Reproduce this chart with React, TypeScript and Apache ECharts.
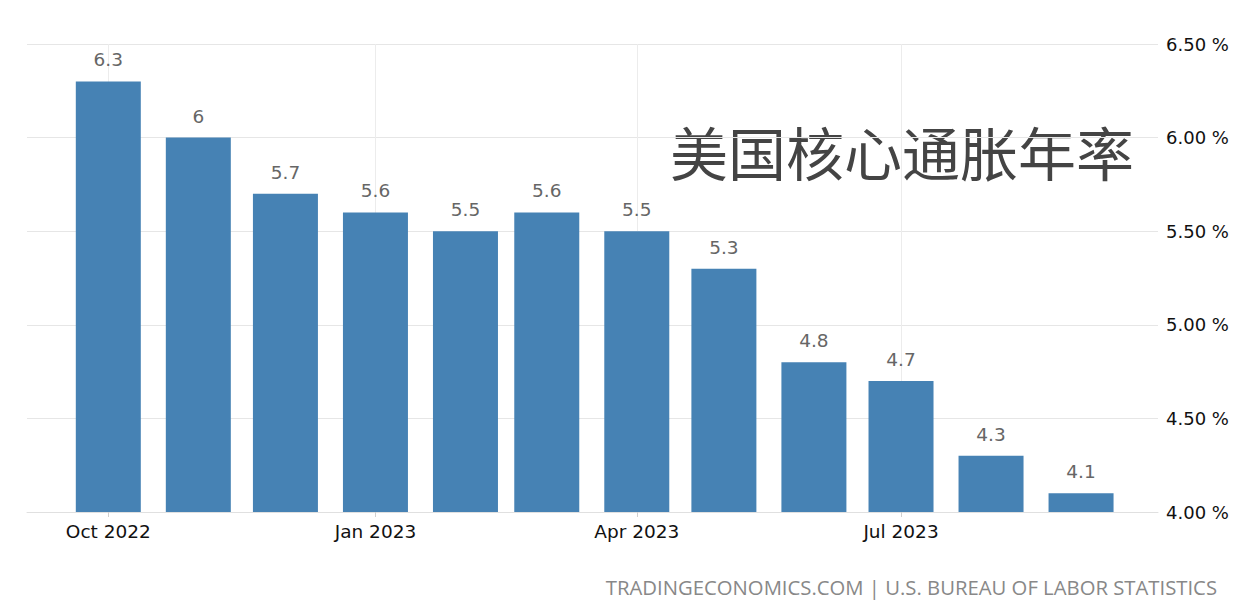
import React, { useEffect, useRef } from "react";
import * as echarts from "echarts";

const months: [number, number][] = [
  [2022, 10], [2022, 11], [2022, 12], [2023, 1], [2023, 2], [2023, 3],
  [2023, 4], [2023, 5], [2023, 6], [2023, 7], [2023, 8], [2023, 9],
];
const values: number[] = [6.3, 6, 5.7, 5.6, 5.5, 5.6, 5.5, 5.3, 4.8, 4.7, 4.3, 4.1];
const quarterTicks: [number, number][] = [[2022, 10], [2023, 1], [2023, 4], [2023, 7]];
const monthNames = ["Jan", "Feb", "Mar", "Apr", "May", "Jun", "Jul", "Aug", "Sep", "Oct", "Nov", "Dec"];
const yTicks = { min: 4, max: 6.5, interval: 0.5 };
const title = "美国核心通胀年率";
const source = "TRADINGECONOMICS.COM | U.S. BUREAU OF LABOR STATISTICS";

const ts = (y: number, m: number, d = 1, h = 0) => new Date(y, m - 1, d, h).getTime();

export default function App() {
  const ref = useRef<HTMLDivElement>(null);
  useEffect(() => {
    if (!ref.current) return;
    const chart = echarts.init(ref.current, undefined, { renderer: "svg" });
    const tickVals = quarterTicks.map(([y, m]) => ts(y, m));
    chart.setOption({
      animation: false,
      backgroundColor: "#ffffff",
      grid: { left: 27, right: 84, top: 44, bottom: 101, containLabel: false },
      xAxis: {
        type: "value",
        min: ts(2022, 9, 3),
        max: ts(2023, 9, 27, 12),
        axisLine: { show: true, lineStyle: { color: "#e0e0e0", width: 1 } },
        axisTick: { show: true, customValues: tickVals, length: 5, lineStyle: { color: "#d0d0d0" } },
        axisLabel: {
          customValues: tickVals,
          margin: 10,
          color: "#111",
          fontSize: 18.5,
          fontFamily: "DejaVu Sans",
          formatter: (v: number) => {
            const d = new Date(v);
            return `${monthNames[d.getMonth()]} ${d.getFullYear()}`;
          },
        },
        splitLine: { show: true, lineStyle: { color: "#ececec", width: 1 } },
      },
      yAxis: {
        type: "value",
        position: "right",
        min: yTicks.min,
        max: yTicks.max,
        interval: yTicks.interval,
        axisLine: { show: false },
        axisTick: { show: false },
        axisLabel: {
          margin: 8,
          color: "#111",
          fontSize: 18,
          fontFamily: "DejaVu Sans",
          formatter: (v: number) => `${v.toFixed(2)} %`,
        },
        splitLine: { show: true, lineStyle: { color: "#e6e6e6", width: 1 } },
      },
      series: [
        {
          type: "bar",
          barWidth: 65,
          data: months.map(([y, m], i) => [ts(y, m), values[i]]),
          itemStyle: { color: "#4682b4" },
          label: {
            show: true,
            position: "top",
            distance: 12,
            color: "#666",
            fontSize: 18.5,
            fontFamily: "DejaVu Sans",
            formatter: (p: any) => String(p.value[1]),
          },
        },
      ],
      graphic: [
        {
          type: "text",
          left: 670,
          top: 122,
          style: {
            text: title,
            fontSize: 58,
            fontFamily: "Noto Sans CJK SC",
            fill: "#444",
          },
        },
        {
          type: "text",
          right: 25,
          top: 577,
          style: {
            text: source,
            fontSize: 20.3,
            fontFamily: "Open Sans",
            fill: "#888",
          },
        },
      ],
    });
    return () => chart.dispose();
  }, []);
  return (
    <div
      ref={ref}
      style={{ position: "fixed", left: 0, top: 0, width: 1242, height: 613 }}
    />
  );
}
